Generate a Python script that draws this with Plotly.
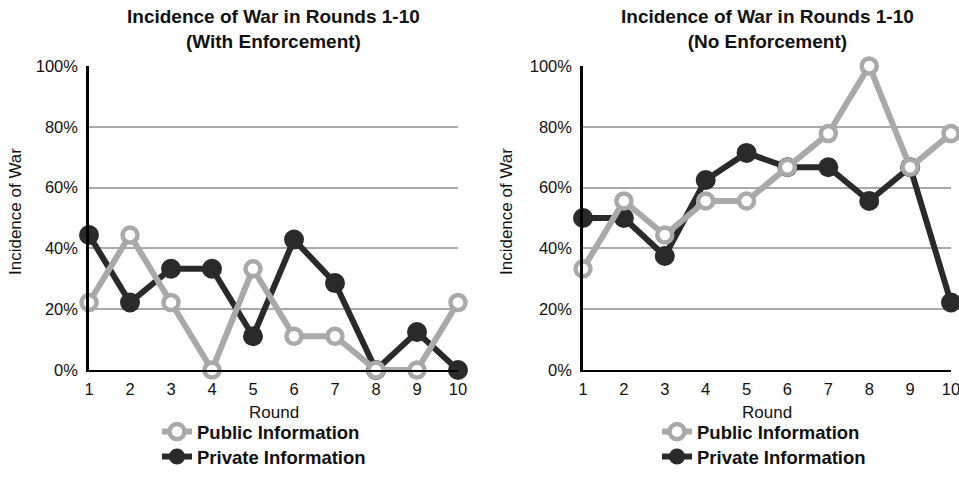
import plotly.graph_objects as go

rounds = [1, 2, 3, 4, 5, 6, 7, 8, 9, 10]

# With Enforcement (left panel), share of games ending in war
enf_public = [0.222, 0.444, 0.222, 0.0, 0.333, 0.111, 0.111, 0.0, 0.0, 0.222]
enf_private = [0.444, 0.222, 0.333, 0.333, 0.111, 0.429, 0.286, 0.0, 0.125, 0.0]

# No Enforcement (right panel)
noenf_public = [0.333, 0.556, 0.444, 0.556, 0.556, 0.667, 0.778, 1.0, 0.667, 0.778]
noenf_private = [0.50, 0.50, 0.375, 0.625, 0.714, 0.667, 0.667, 0.556, 0.667, 0.222]

y_ticks = [0, 0.2, 0.4, 0.6, 0.8, 1.0]
y_ticklabels = ["0%", "20%", "40%", "60%", "80%", "100%"]

titles = ["Incidence of War in Rounds 1-10<br>(With Enforcement)",
          "Incidence of War in Rounds 1-10<br>(No Enforcement)"]
series_names = ["Public Information", "Private Information"]
x_title = "Round"
y_title = "Incidence of War"

W, H = 959, 479
FONT = "Liberation Sans, Arial, Helvetica, sans-serif"
GRAY = "#a9a9a9"
DARK = "#2a2a2a"
TXT = "#111111"

def px_x(p):
    return p / W

def px_y(p):
    return 1 - p / H

left_dom = [px_x(89), px_x(458)]
right_dom = [px_x(583), px_x(951)]
y_dom = [px_y(370), px_y(66)]

fig = go.Figure()

panels = [
    (enf_public, enf_private, "x", "y", "legend", "legend2"),
    (noenf_public, noenf_private, "x2", "y2", "legend3", "legend4"),
]

for pub, priv, xa, ya, lg_pub, lg_priv in panels:
    fig.add_trace(go.Scatter(
        x=rounds, y=priv, name=series_names[1], xaxis=xa, yaxis=ya,
        mode="lines+markers", legend=lg_priv, cliponaxis=False,
        line=dict(color=DARK, width=6),
        marker=dict(symbol="circle", size=20, color=DARK, line=dict(width=0)),
    ))
    fig.add_trace(go.Scatter(
        x=rounds, y=pub, name=series_names[0], xaxis=xa, yaxis=ya,
        mode="lines+markers", legend=lg_pub, cliponaxis=False,
        line=dict(color=GRAY, width=6),
        marker=dict(symbol="circle", size=15, color="white",
                    line=dict(color=GRAY, width=4.5)),
    ))

xcommon = dict(
    range=[1, 10], tickmode="array", tickvals=rounds, automargin=False,
    showline=True, linecolor="black", linewidth=2, showgrid=False,
    zeroline=False, ticks="outside", ticklen=3, tickcolor="rgba(0,0,0,0)",
    ticklabeloverflow="allow",
    tickfont=dict(family=FONT, size=16.5, color=TXT),
)
ycommon = dict(
    range=[0, 1], tickmode="array", tickvals=y_ticks, ticktext=y_ticklabels,
    automargin=False,
    showline=True, linecolor="black", linewidth=2.5, showgrid=True,
    gridcolor=GRAY, gridwidth=1.5, zeroline=False,
    ticks="outside", ticklen=5, tickcolor="rgba(0,0,0,0)",
    ticklabeloverflow="allow",
    tickfont=dict(family=FONT, size=16.5, color=TXT),
)

legend_font = dict(family=FONT, size=18.5, color=TXT, weight="bold")
legend_common = dict(
    xanchor="left", yanchor="top",
    font=legend_font, itemwidth=30, tracegroupgap=0, bgcolor="rgba(0,0,0,0)",
)

fig.update_layout(
    width=W, height=H,
    margin=dict(l=0, r=0, t=0, b=0),
    paper_bgcolor="white", plot_bgcolor="white",
    font=dict(family=FONT, color=TXT),
    xaxis=dict(domain=left_dom, anchor="y", **xcommon),
    yaxis=dict(domain=y_dom, anchor="x", **ycommon),
    xaxis2=dict(domain=right_dom, anchor="y2", **xcommon),
    yaxis2=dict(domain=y_dom, anchor="x2", **ycommon),
    legend=dict(x=px_x(157), y=px_y(413), **legend_common),
    legend2=dict(x=px_x(157), y=px_y(438), **legend_common),
    legend3=dict(x=px_x(657), y=px_y(413), **legend_common),
    legend4=dict(x=px_x(657), y=px_y(438), **legend_common),
    showlegend=True,
)

for dom, t, ylab_x in zip([left_dom, right_dom], titles, [15, 506]):
    cx = (dom[0] + dom[1]) / 2
    fig.add_annotation(
        text=t, xref="paper", yref="paper",
        x=cx, y=px_y(4), xanchor="center", yanchor="top",
        showarrow=False, align="center",
        font=dict(family=FONT, size=19, color=TXT, weight="bold"),
    )
    fig.add_annotation(
        text=x_title, xref="paper", yref="paper",
        x=cx, y=px_y(412), xanchor="center", yanchor="middle",
        showarrow=False, font=dict(family=FONT, size=17, color=TXT),
    )
    fig.add_annotation(
        text=y_title, xref="paper", yref="paper", textangle=-90,
        x=px_x(ylab_x), y=px_y(212), xanchor="center", yanchor="middle",
        showarrow=False, font=dict(family=FONT, size=17, color=TXT),
    )

post = (
    "document.documentElement.style.margin='0';"
    "document.body.style.margin='0';"
    "document.body.style.overflow='hidden';"
)

fig.write_html("out.html", post_script=post,
               config={"displayModeBar": False, "responsive": False})
